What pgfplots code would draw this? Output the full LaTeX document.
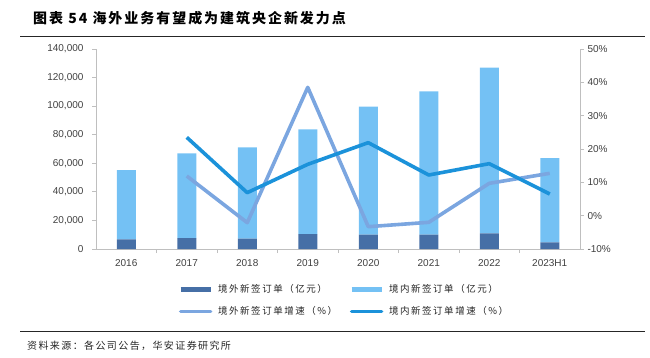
\documentclass[border=0pt]{standalone}
\usepackage{pgfplots}
\pgfplotsset{compat=1.18}
\usepackage{fontspec}
\setmainfont{Liberation Sans}
\newfontfamily\cjk{Noto Sans CJK SC}
\newfontfamily\cjkleg[LetterSpace=16]{Noto Sans CJK SC}
\newfontfamily\cjkfoot[LetterSpace=14]{Noto Sans CJK SC}
\newfontfamily\cjktitle[LetterSpace=14]{Noto Sans CJK SC}
\definecolor{cOver}{HTML}{466FA6}
\definecolor{cDom}{HTML}{74C1F4}
\definecolor{lOver}{HTML}{7BA6E0}
\definecolor{lDom}{HTML}{1B92DA}
\definecolor{axgray}{HTML}{BFBFBF}
\definecolor{txt}{HTML}{404040}
\begin{document}
\begin{tikzpicture}
\path[use as bounding box] (0pt,0pt) rectangle (650pt,-358pt);
\node[anchor=west,inner sep=0pt,font=\cjktitle\bfseries\fontsize{14}{16}\selectfont] at (33pt,-18pt) {图表 54 海外业务有望成为建筑央企新发力点};
\draw[line width=1pt, black!85] (20pt,-37pt) -- (645pt,-37pt);
\draw[line width=1pt, black!85] (20pt,-331pt) -- (645pt,-331pt);
\node[anchor=west,inner sep=0pt,font=\cjkfoot\fontsize{10}{12}\selectfont, text=black!85] at (27pt,-346pt) {资料来源：各公司公告，华安证券研究所};

\begin{axis}[at={(96pt,-249pt)}, anchor=south west, scale only axis,
  width=484pt, height=200pt,
  xmin=-0.5, xmax=7.5, ymin=0, ymax=140000,
  ytick={0,20000,40000,60000,80000,100000,120000,140000},
  scaled y ticks=false,
  yticklabel style={xshift=-5pt, /pgf/number format/.cd,fixed,1000 sep={,},assume math mode=true},
  axis x line*=bottom, axis y line*=left,
  axis line style={axgray, line width=1pt},
  tick align=outside, major tick length=4pt,
  tick style={axgray, line width=0.8pt},
  xtick={0.5,1.5,...,6.5}, xticklabels={},
  extra x ticks={0,1,2,3,4,5,6,7},
  extra x tick labels={2016,2017,2018,2019,2020,2021,2022,2023H1},
  extra x tick style={major tick length=0pt},
  tick label style={font=\fontsize{10}{12}\selectfont, text=txt},
  xticklabel style={yshift=-7pt},
  ybar stacked, bar width=19pt,
]
\addplot[fill=cOver, draw=none] coordinates {(0,6800) (1,7700) (2,7200) (3,10500) (4,10000) (5,10000) (6,11000) (7,4700)};
\addplot[fill=cDom, draw=none] coordinates {(0,48500) (1,59300) (2,64000) (3,73300) (4,89600) (5,100400) (6,115900) (7,59000)};
\end{axis}

\begin{axis}[at={(96pt,-249pt)}, anchor=south west, scale only axis,
  width=484pt, height=200pt,
  xmin=-0.5, xmax=7.5, ymin=-10, ymax=50,
  ytick={-10,0,10,20,30,40,50},
  yticklabel={\pgfmathprintnumber[assume math mode=true]{\tick}\%},
  axis x line=none, axis y line*=right,
  axis line style={axgray, line width=1pt},
  tick align=outside, major tick length=4pt,
  tick style={axgray, line width=0.8pt},
  tick label style={font=\fontsize{10}{12}\selectfont, text=txt},
  legend columns=2,
  legend image code/.code={\draw[#1] (0pt,0pt) -- (30pt,0pt);},
  legend style={at={(0.1694,-0.175)}, anchor=north west, draw=none, fill=none,
    font=\cjkleg\fontsize{9.5}{11}\selectfont, text=black!85,
    row sep=13pt, inner sep=0pt, nodes={inner sep=0pt},
    /tikz/every odd column/.append style={column sep=5pt},
    /tikz/every even column/.append style={column sep=12pt}},
  legend cell align=left,
]
\addlegendimage{cOver, line width=5pt}
\addlegendentry{境外新签订单（亿元）}
\addlegendimage{cDom, line width=5pt}
\addlegendentry{境内新签订单（亿元）}
\addlegendimage{lOver, line width=3.6pt, line cap=round}
\addlegendentry{境外新签订单增速（\%）}
\addlegendimage{lDom, line width=3.6pt, line cap=round}
\addlegendentry{境内新签订单增速（\%）}
\addplot[forget plot, lOver, line width=3.6pt, line join=round] coordinates {(1,11.9) (2,-2.1) (3,38.5) (4,-3.3) (5,-2.0) (6,9.7) (7,12.7)};
\addplot[forget plot, lDom, line width=3.6pt, line join=round] coordinates {(1,23.5) (2,6.9) (3,15.4) (4,21.9) (5,12.2) (6,15.6) (7,6.5)};
\end{axis}
\end{tikzpicture}
\end{document}
